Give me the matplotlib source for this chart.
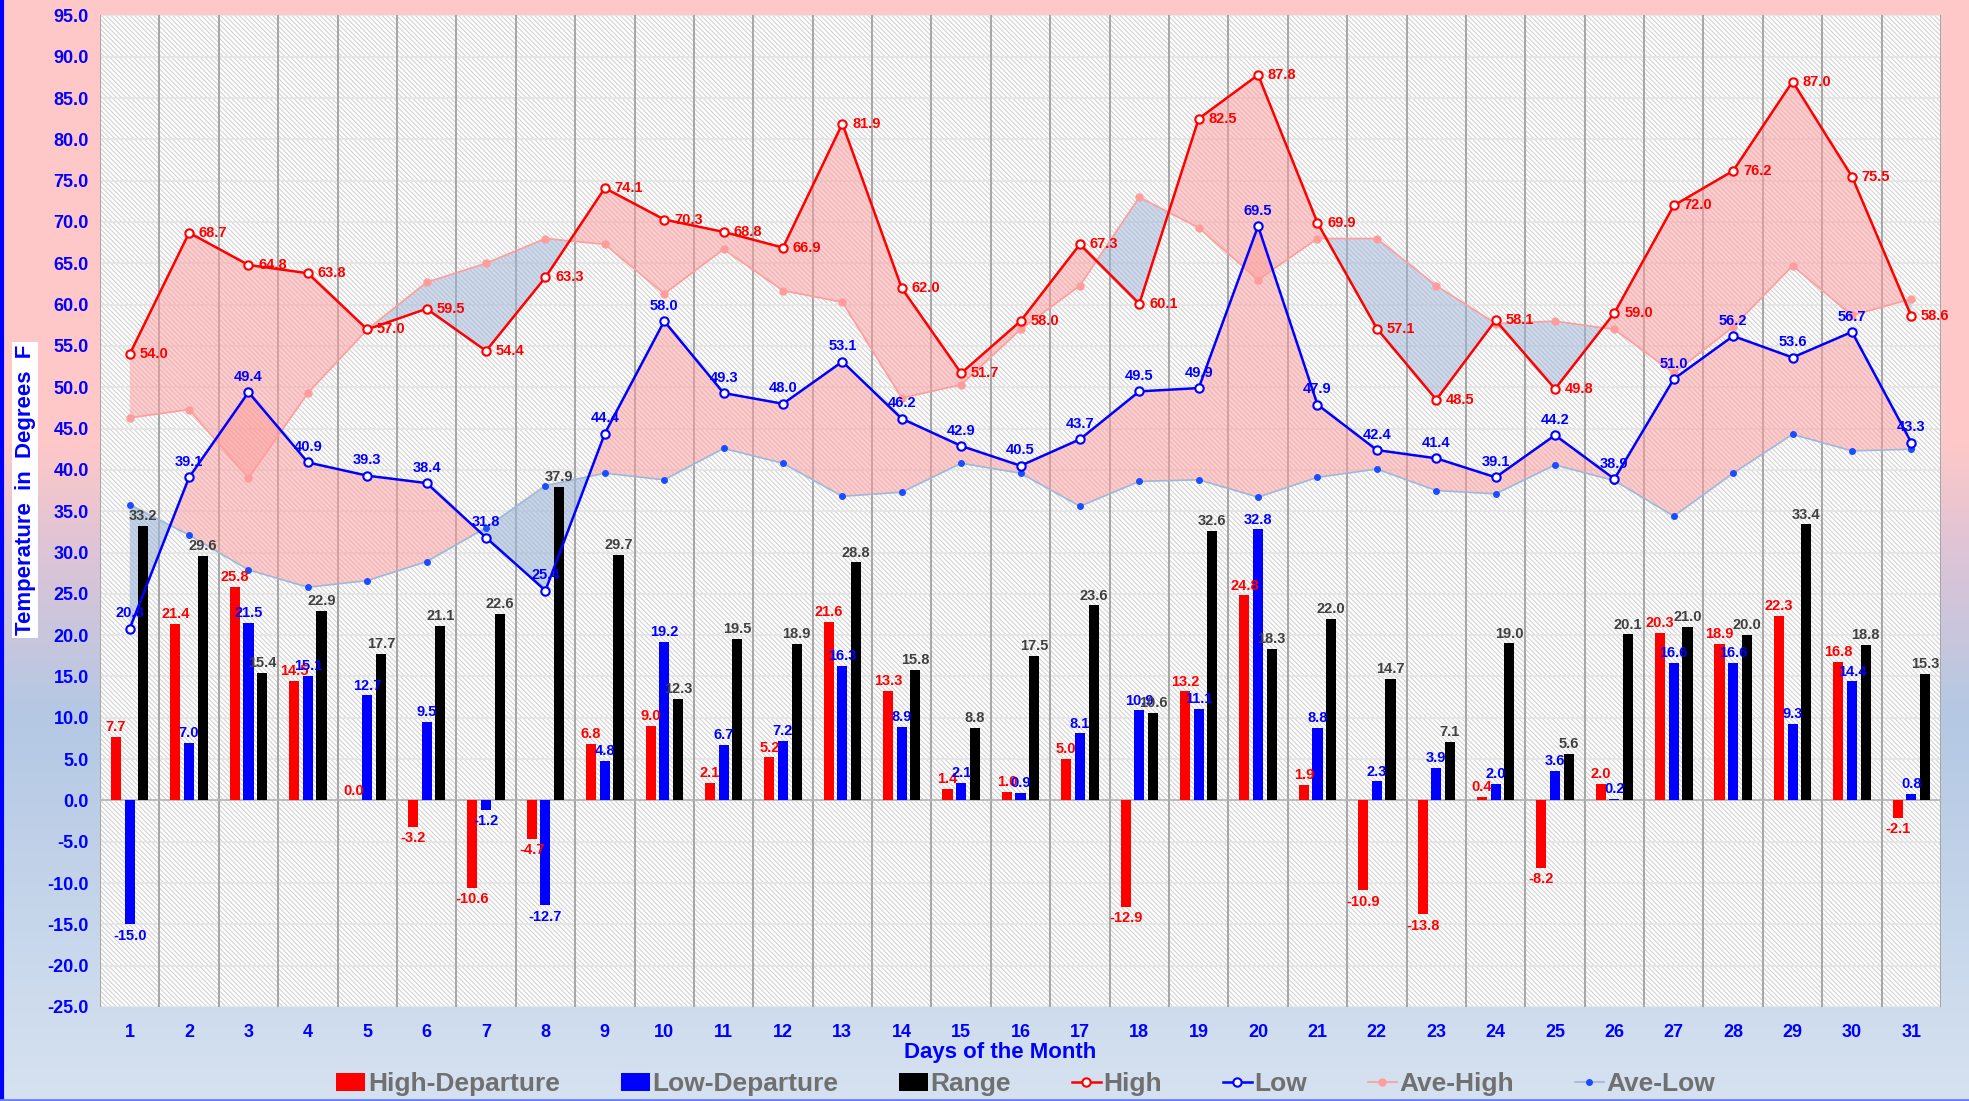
import matplotlib
matplotlib.use('Agg')
import matplotlib.pyplot as plt
from matplotlib.patches import Rectangle
from matplotlib.lines import Line2D
import numpy as np

plt.rcParams['font.family'] = ['Liberation Sans', 'DejaVu Sans']
plt.rcParams['font.weight'] = 'bold'
plt.rcParams['hatch.linewidth'] = 0.8

# daily data
days = list(range(1, 32))
high = [54.0, 68.7, 64.8, 63.8, 57.0, 59.5, 54.4, 63.3, 74.1, 70.3, 68.8, 66.9, 81.9, 62.0, 51.7, 58.0,
        67.3, 60.1, 82.5, 87.8, 69.9, 57.1, 48.5, 58.1, 49.8, 59.0, 72.0, 76.2, 87.0, 75.5, 58.6]
low = [20.8, 39.1, 49.4, 40.9, 39.3, 38.4, 31.8, 25.4, 44.4, 58.0, 49.3, 48.0, 53.1, 46.2, 42.9, 40.5,
       43.7, 49.5, 49.9, 69.5, 47.9, 42.4, 41.4, 39.1, 44.2, 38.9, 51.0, 56.2, 53.6, 56.7, 43.3]
ave_high = [46.3, 47.3, 39.0, 49.3, 57.0, 62.7, 65.0, 68.0, 67.3, 61.3, 66.7, 61.7, 60.3, 48.7, 50.3, 57.0,
            62.3, 73.0, 69.3, 63.0, 68.0, 68.0, 62.3, 57.7, 58.0, 57.0, 51.7, 57.3, 64.7, 58.7, 60.7]
ave_low = [35.8, 32.1, 27.9, 25.8, 26.6, 28.9, 33.0, 38.1, 39.6, 38.8, 42.6, 40.8, 36.8, 37.3, 40.8, 39.6,
           35.6, 38.6, 38.8, 36.7, 39.1, 40.1, 37.5, 37.1, 40.6, 38.7, 34.4, 39.6, 44.3, 42.3, 42.5]
high_dep = [7.7, 21.4, 25.8, 14.5, 0.0, -3.2, -10.6, -4.7, 6.8, 9.0, 2.1, 5.2, 21.6, 13.3, 1.4, 1.0,
            5.0, -12.9, 13.2, 24.8, 1.9, -10.9, -13.8, 0.4, -8.2, 2.0, 20.3, 18.9, 22.3, 16.8, -2.1]
low_dep = [-15.0, 7.0, 21.5, 15.1, 12.7, 9.5, -1.2, -12.7, 4.8, 19.2, 6.7, 7.2, 16.3, 8.9, 2.1, 0.9,
           8.1, 10.9, 11.1, 32.8, 8.8, 2.3, 3.9, 2.0, 3.6, 0.2, 16.6, 16.6, 9.3, 14.4, 0.8]
rng = [33.2, 29.6, 15.4, 22.9, 17.7, 21.1, 22.6, 37.9, 29.7, 12.3, 19.5, 18.9, 28.8, 15.8, 8.8, 17.5,
       23.6, 10.6, 32.6, 18.3, 22.0, 14.7, 7.1, 19.0, 5.6, 20.1, 21.0, 20.0, 33.4, 18.8, 15.3]

x = np.array(days)
hi, lo = np.array(high), np.array(low)
ahi, alo = np.array(ave_high), np.array(ave_low)

fig = plt.figure(figsize=(19.69, 11.01), dpi=100)

# background gradient, pink at top to blue lower down
bg = fig.add_axes([0, 0, 1, 1], zorder=-10)
stops = [0, 0.40, 0.50, 0.65, 1.0]
cols = np.array([[255, 200, 200], [255, 200, 200], [222, 196, 214], [180, 200, 228], [214, 226, 240]]) / 255
yy = np.linspace(0, 1, 400)
grad = np.stack([np.interp(yy, stops, cols[:, i]) for i in range(3)], axis=-1)[:, None, :]
bg.imshow(grad, aspect='auto', extent=[0, 1, 0, 1])
bg.axis('off')

ax = fig.add_axes([0.0508, 0.0854, 0.935, 0.9006])
ax.set_facecolor('white')
ax.add_patch(Rectangle((0, 0), 1, 1, transform=ax.transAxes, facecolor='white',
                       edgecolor='#d2d2d2', hatch='\\' * 7, lw=0, zorder=0.1))
ax.set_axisbelow(True)
ax.yaxis.grid(True, color='#e4e4e4', lw=1.2)
for v in np.arange(0.5, 32, 1):
    ax.axvline(v, color='#a0a0a0', lw=1.3, zorder=0.6)
ax.axhline(0, color='#b4b4b4', lw=1.2, zorder=0.6)

# filled areas between actual and normal
pink, blue_f = '#ff9c9c', '#9fb7d9'
ax.fill_between(x, hi, ahi, where=hi >= ahi, interpolate=True, color=pink, alpha=0.5, lw=0, zorder=1)
ax.fill_between(x, hi, ahi, where=hi < ahi, interpolate=True, color=blue_f, alpha=0.5, lw=0, zorder=1)
ax.fill_between(x, lo, alo, where=lo >= alo, interpolate=True, color=pink, alpha=0.5, lw=0, zorder=1)
ax.fill_between(x, lo, alo, where=lo < alo, interpolate=True, color=blue_f, alpha=0.6, lw=0, zorder=1)

# bars
w = 0.17
b1 = ax.bar(x - 0.23, high_dep, w, color='#ff0000', zorder=2, label='High-Departure')
b2 = ax.bar(x, low_dep, w, color='#0000ff', zorder=2, label='Low-Departure')
b3 = ax.bar(x + 0.23, rng, w, color='#000000', zorder=2, label='Range')

# lines
l1, = ax.plot(x, hi, color='#ff0000', lw=1.8, marker='o', ms=6, mfc='white', mec='#ff0000', mew=1.5,
              zorder=4, label='High')
l2, = ax.plot(x, lo, color='#0000ff', lw=1.8, marker='o', ms=6, mfc='white', mec='#0000ff', mew=1.5,
              zorder=4, label='Low')
l3, = ax.plot(x, ahi, color='#ff9c9c', lw=1.2, marker='o', ms=5, mfc='#ff9c9c', mec='#ff9c9c',
              zorder=3, label='Ave-High')
l4, = ax.plot(x, alo, color='#9fb7d9', lw=1.2, marker='o', ms=4, mfc='#1a4dff', mec='#1a4dff',
              zorder=3, label='Ave-Low')

# value labels
fs = 10.5
def bar_labels(offset, vals, col):
    for d, v in zip(days, vals):
        if v >= 0:
            ax.annotate(f'{v:.1f}', (d + offset, v), xytext=(0, 2), textcoords='offset points',
                        ha='center', va='bottom', color=col, fontsize=fs, zorder=5)
        else:
            ax.annotate(f'{v:.1f}', (d + offset, v), xytext=(0, -3), textcoords='offset points',
                        ha='center', va='top', color=col, fontsize=fs, zorder=5)

bar_labels(-0.23, high_dep, '#ff0000')
bar_labels(0, low_dep, '#0000ff')
bar_labels(0.23, rng, '#404040')
for d, v in zip(days, high):
    ax.annotate(f'{v:.1f}', (d, v), xytext=(7, 0), textcoords='offset points',
                ha='left', va='center', color='#ff0000', fontsize=fs, zorder=5)
for d, v in zip(days, low):
    ax.annotate(f'{v:.1f}', (d, v), xytext=(0, 6), textcoords='offset points',
                ha='center', va='bottom', color='#0000ff', fontsize=fs, zorder=5)

ax.set_xlim(0.5, 31.5)
ax.set_ylim(-25, 95)
yt = np.arange(-25, 96, 5)
ax.set_yticks(yt)
ax.set_yticklabels([f'{v:.1f}' for v in yt])
ax.set_xticks(days)
ax.set_xticklabels([str(d) for d in days])
ax.tick_params(axis='both', length=0, colors='#0000ff', labelsize=13)
ax.tick_params(axis='x', pad=12)
ax.tick_params(axis='y', pad=8)
for s in ax.spines.values():
    s.set_visible(False)

fig.text(0.508, 0.0445, 'Days of the Month', color='#0000ff', fontsize=16, fontweight='bold',
         ha='center', va='center')
fig.text(0.0127, 0.555, 'Temperature  in  Degrees  F', rotation=90, color='#0000ff', fontsize=16,
         fontweight='bold', ha='center', va='center',
         bbox=dict(facecolor='white', edgecolor='none', pad=2))

fig.legend(handles=[b1, b2, b3, l1, l2, l3, l4], loc='center', bbox_to_anchor=(0.521, 0.0154),
           ncol=7, frameon=False, prop={'size': 19, 'weight': 'bold'}, labelcolor='#707070',
           handlelength=1.1, handletextpad=0.1, columnspacing=2.3)

# blue border at left and bottom
fig.add_artist(Line2D([0.001, 0.001], [0, 1], color='#0000ff', lw=3, transform=fig.transFigure))
fig.add_artist(Line2D([0, 1], [0.001, 0.001], color='#6a7fff', lw=2, transform=fig.transFigure))

fig.savefig('out.png', dpi=100)
